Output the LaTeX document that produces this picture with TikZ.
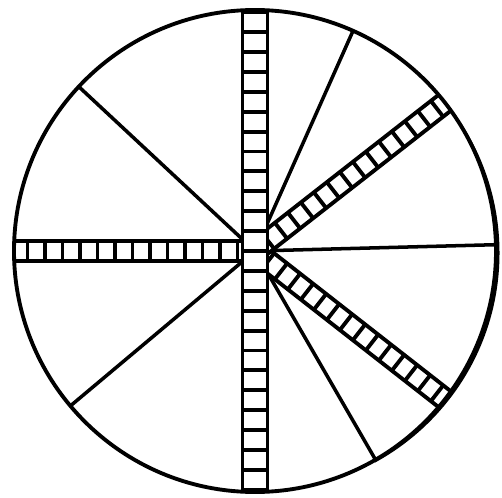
\documentclass[tikz,border=0pt]{standalone}
\usetikzlibrary{calc}

% ladder spoke: angle, start, end, half width, rung step
\newcommand{\ladder}[5]{%
  \begin{scope}[rotate=#1]
    \fill[white] (#2,-#4) rectangle (#3,#4);
    \begin{scope}
      \clip (#2,-#4-3) rectangle (#3,#4+3);
      \foreach \k in {-16,...,16}
        \draw[rail] ({\k*#5},-#4) -- ({\k*#5},#4);
    \end{scope}
    \draw[rail] (#2,-#4) -- (#3,-#4) (#2,#4) -- (#3,#4);
  \end{scope}}

\begin{document}
\begin{tikzpicture}[x=0.02cm,y=0.02cm,
  rim/.style={line width=2.2pt},
  spoke/.style={line width=2pt},
  rail/.style={line width=2.2pt,line cap=butt}]
  \useasboundingbox (-255,-246) rectangle (247,251);
  \coordinate (hub) at (0,0);
  % plain spokes
  \foreach \a in {137,220,66,1.5,-60}
    \draw[spoke] (hub) -- (\a:241);
  % ladder spokes, cut at the rim
  \begin{scope}
    \clip (hub) circle (241);
    \ladder{-38}{0}{250}{10}{16.5}
    \ladder{38}{0}{250}{10}{16.5}
    \ladder{180}{0}{250}{10}{17.5}
    \ladder{90}{-250}{250}{12.5}{19.9}
  \end{scope}
  \draw[rim] (hub) circle (241);
  % heavier ink on the right of the rim
  \begin{scope}
    \clip (120,-300) rectangle (300,300);
    \fill[even odd rule] (6,-2) circle (238.5) (hub) circle (241);
  \end{scope}
\end{tikzpicture}
\end{document}
